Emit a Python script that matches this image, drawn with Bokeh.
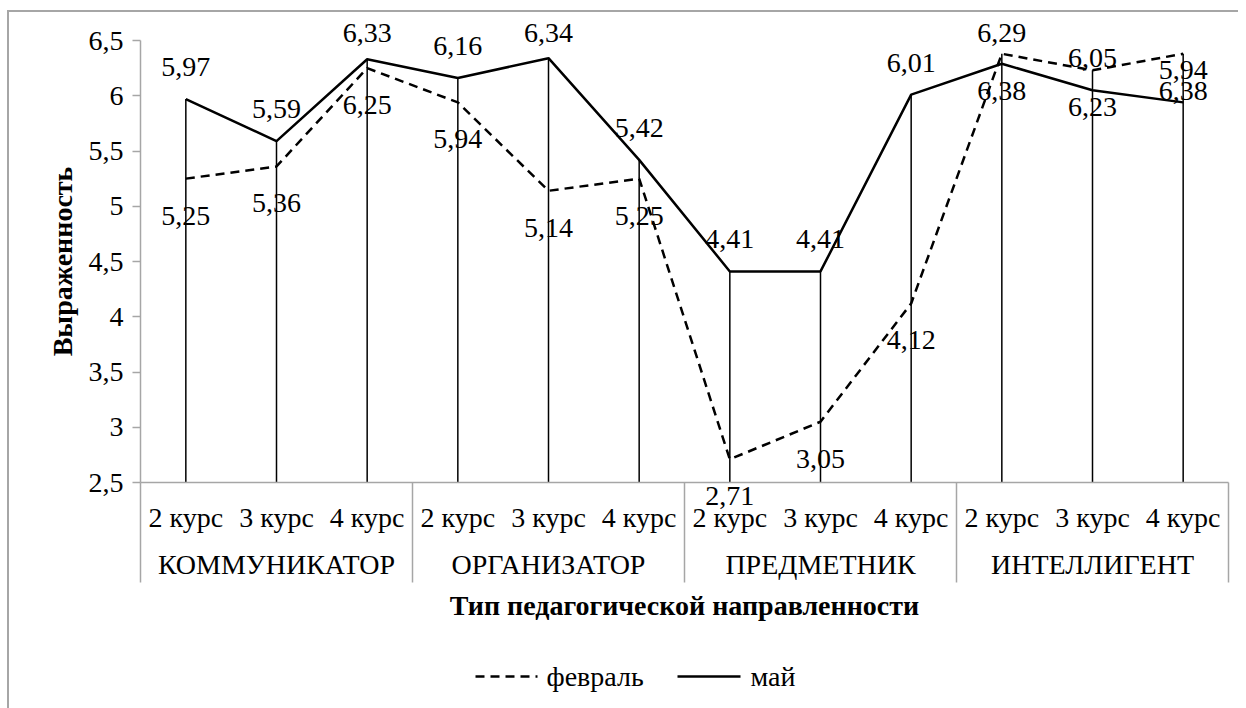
from bokeh.plotting import figure
from bokeh.models import (FactorRange, ColumnDataSource, FixedTicker,
                          CustomJSTickFormatter)
from bokeh.core.properties import value
from bokeh.transform import dodge
from bokeh.embed import file_html
from bokeh.resources import INLINE

groups = ["КОММУНИКАТОР", "ОРГАНИЗАТОР", "ПРЕДМЕТНИК", "ИНТЕЛЛИГЕНТ"]
courses = ["2 курс", "3 курс", "4 курс"]
feb = [5.25, 5.36, 6.25, 5.94, 5.14, 5.25, 2.71, 3.05, 4.12, 6.38, 6.23, 6.38]
may = [5.97, 5.59, 6.33, 6.16, 6.34, 5.42, 4.41, 4.41, 6.01, 6.29, 6.05, 5.94]
y_ticks = [2.5, 3, 3.5, 4, 4.5, 5, 5.5, 6, 6.5]
series_names = ["февраль", "май"]
y_title = "Выраженность"
x_title = "Тип педагогической направленности"

FONT = "Liberation Serif"
FS = "28px"
AXIS_GRAY = "#a6a6a6"
FRAME_W = 1088
FRAME_H = 442
FRAME_LEFT_PX = 140   # page x of the plot area's left edge
FRAME_BOTTOM_PX = 482  # page y of the plot area's bottom edge
FEB_DASH = "9 6"

factors = [(g, c) for g in groups for c in courses]
y_min, y_max = y_ticks[0], y_ticks[-1]
px_per_unit = FRAME_H / (y_max - y_min)
px_per_cat = FRAME_W / len(factors)


def fmt(v):
    return f"{v:.2f}".replace(".", ",")


def page_x(px):
    return (px - FRAME_LEFT_PX) / px_per_cat


def page_y(py):
    return y_min - (py - FRAME_BOTTOM_PX) / px_per_unit


p = figure(x_range=FactorRange(*factors, factor_padding=0, group_padding=0,
                               subgroup_padding=0, range_padding=0),
           y_range=(y_min, y_max), frame_width=FRAME_W, frame_height=FRAME_H,
           output_backend="svg", toolbar_location=None,
           min_border_left=131, min_border_right=10, min_border_top=28,
           min_border_bottom=226)
p.margin = (10, 0, 0, 7)
p.styles = {"border-left": "2px solid #a6a6a6", "border-top": "2px solid #a6a6a6"}
p.outline_line_color = None
p.xgrid.visible = False
p.ygrid.visible = False

# labels above the "май" points are kept inside the chart area near the top
may_off = [-min(32.0, 7.5 + (y_max - v) * px_per_unit) for v in may]

src = ColumnDataSource(dict(
    x=factors, feb=feb, may=may,
    top=[max(a, b) for a, b in zip(feb, may)],
    base=[y_min] * len(factors),
    feb_lbl=[fmt(v) for v in feb], may_lbl=[fmt(v) for v in may],
    may_off=may_off,
))

# drop lines from the highest value down to the axis
p.segment(x0="x", y0="base", x1="x", y1="top", source=src,
          line_color="black", line_width=1.5)

p.line("x", "feb", source=src, line_color="black", line_width=2.5,
       line_dash=FEB_DASH)
p.line("x", "may", source=src, line_color="black", line_width=2.5)

# group separators on the category axis
sep_bottom = y_min - 100 / px_per_unit
sep = ColumnDataSource(dict(
    x=[(g, courses[0]) for g in groups], b=[y_min] * len(groups),
    t=[sep_bottom] * len(groups)))
sep_end = ColumnDataSource(dict(x=[factors[-1]], b=[y_min], t=[sep_bottom]))
p.segment(x0=dodge("x", -0.5, range=p.x_range), y0="b",
          x1=dodge("x", -0.5, range=p.x_range), y1="t", source=sep,
          line_color=AXIS_GRAY, line_width=1.5, level="overlay")
p.segment(x0=dodge("x", 0.5, range=p.x_range), y0="b",
          x1=dodge("x", 0.5, range=p.x_range), y1="t", source=sep_end,
          line_color=AXIS_GRAY, line_width=1.5, level="overlay")

# data labels
p.text(x="x", y="may", text="may_lbl", source=src, y_offset="may_off",
       text_align="center", text_baseline="middle", text_font=value(FONT),
       text_font_size=FS, text_color="black", level="overlay")
p.text(x="x", y="feb", text="feb_lbl", source=src, y_offset=37,
       text_align="center", text_baseline="middle", text_font=value(FONT),
       text_font_size=FS, text_color="black", level="overlay")

# legend under the axis title (key samples + names)
leg_y = page_y(676)
p.segment(x0=[page_x(475)], y0=[leg_y], x1=[page_x(537)], y1=[leg_y],
          line_color="black", line_width=2.5, line_dash=FEB_DASH, level="overlay")
p.segment(x0=[page_x(677)], y0=[leg_y], x1=[page_x(740)], y1=[leg_y],
          line_color="black", line_width=2.5, level="overlay")
p.text(x=[page_x(546), page_x(750)], y=[leg_y, leg_y], text=series_names,
       text_align="left", text_baseline="middle", text_font=value(FONT),
       text_font_size=FS, text_color="black", level="overlay")

# y axis
ya = p.yaxis[0]
ya.ticker = FixedTicker(ticks=y_ticks)
ya.formatter = CustomJSTickFormatter(code="return tick.toString().replace('.', ',');")
ya.axis_label = y_title
ya.axis_label_text_font = FONT
ya.axis_label_text_font_size = FS
ya.axis_label_text_font_style = "bold"
ya.axis_label_text_color = "black"
ya.axis_label_standoff = 8
ya.major_label_text_font = FONT
ya.major_label_text_font_size = FS
ya.major_label_text_color = "black"
ya.major_label_standoff = 9
ya.axis_line_color = AXIS_GRAY
ya.axis_line_width = 1.5
ya.major_tick_line_color = AXIS_GRAY
ya.major_tick_line_width = 1.5
ya.major_tick_out = 8
ya.major_tick_in = 0
ya.minor_tick_line_color = None

# x axis
xa = p.xaxis[0]
xa.axis_line_color = AXIS_GRAY
xa.axis_line_width = 1.5
xa.major_tick_line_color = None
xa.minor_tick_line_color = None
xa.major_label_text_font = FONT
xa.major_label_text_font_size = FS
xa.major_label_text_color = "black"
xa.major_label_standoff = 13
xa.group_text_font = FONT
xa.group_text_font_size = FS
xa.group_text_font_style = "normal"
xa.group_text_color = "black"
xa.separator_line_color = None
xa.axis_label = x_title
xa.axis_label_text_font = FONT
xa.axis_label_text_font_size = FS
xa.axis_label_text_font_style = "bold"
xa.axis_label_text_color = "black"
xa.axis_label_standoff = 7

open("out.html", "w").write(file_html(p, INLINE))
